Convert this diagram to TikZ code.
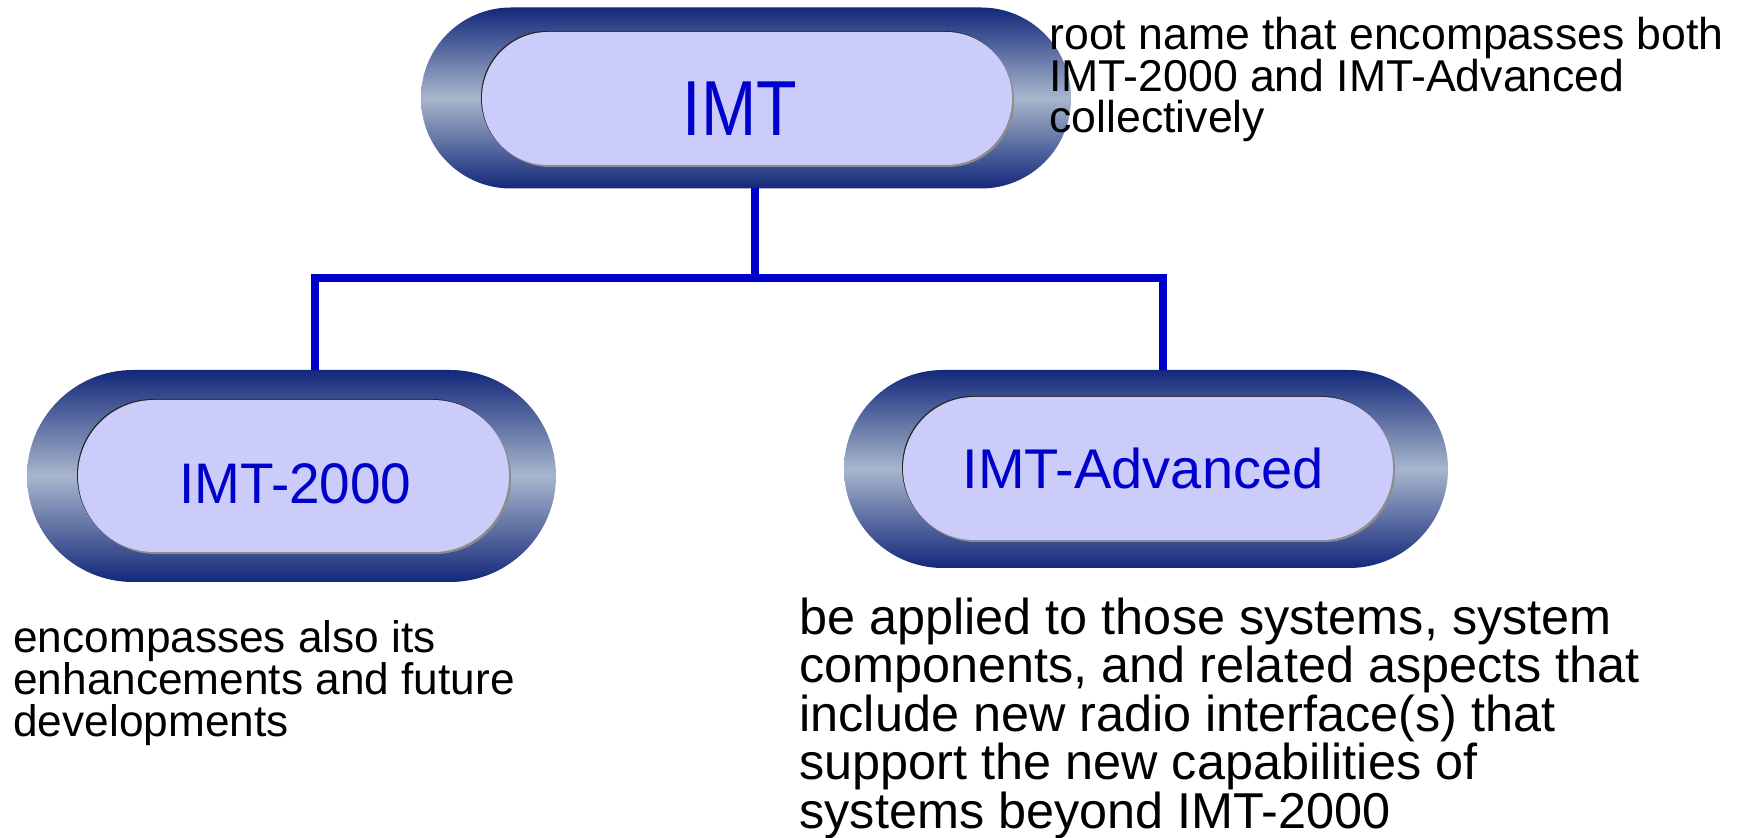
\documentclass[tikz,border=0pt]{standalone}
\usepackage{fontspec}
\setmainfont{Liberation Sans}
\usetikzlibrary{calc}
\definecolor{navy}{HTML}{13287A}
\definecolor{steel}{HTML}{A8B6CC}
\definecolor{lav}{HTML}{CCCCFA}
\definecolor{lblue}{HTML}{0000CC}
\definecolor{rimgray}{HTML}{8C8C8C}
\definecolor{rimdark}{HTML}{262626}
\begin{document}
\begin{tikzpicture}[x=0.5pt,y=-0.5pt,
  outerpill/.style={rectangle, inner sep=0pt, outer sep=0pt, top color=navy, bottom color=navy, middle color=steel},
  innerpill/.style={rectangle, inner sep=0pt, outer sep=0pt, fill=lav},
  pilllabel/.style={inner sep=0pt, text=lblue},
  note/.style={inner sep=0pt, anchor=base west, align=left, text=black},
  conn/.style={draw=lblue, line width=4pt}]
\useasboundingbox (0,0) rectangle (1745,838);

% root
\node[outerpill, minimum width=325pt, minimum height=90.5pt, rounded corners=45pt] (root) at (746,98) {};
\fill[rimgray, rounded corners=33pt] (484,34) rectangle (1014,167);
\fill[rimdark, rounded corners=33pt] (481,31) rectangle (1011,164);
\node[innerpill, minimum width=265pt, minimum height=66.5pt, rounded corners=33pt] (rootin) at (747,98.5) {};
\node[pilllabel] (rootlbl) at (740,109) {\scalebox{0.85}[1]{\fontsize{39}{39}\selectfont IMT}};

% IMT-2000
\node[outerpill, minimum width=264.5pt, minimum height=106pt, rounded corners=53pt] (imt2000) at (291.5,476) {};
\fill[rimgray, rounded corners=38pt] (80,402) rectangle (511,554);
\fill[rimdark, rounded corners=38pt] (77,399) rectangle (508,551);
\node[innerpill, minimum width=215.5pt, minimum height=76pt, rounded corners=38pt] (imt2000in) at (293.5,476) {};
\node[pilllabel] (imt2000lbl) at (295.5,483.5) {\scalebox{0.96}[1]{\fontsize{28.6}{28.6}\selectfont IMT-2000}};

% IMT-Advanced
\node[outerpill, minimum width=302pt, minimum height=99pt, rounded corners=49.5pt] (imtadv) at (1146,469) {};
\fill[rimgray, rounded corners=35.7pt] (905,399) rectangle (1395,542);
\fill[rimdark, rounded corners=35.7pt] (902,396) rectangle (1392,539);
\node[innerpill, minimum width=245pt, minimum height=71.5pt, rounded corners=35.7pt] (imtadvin) at (1148,468.5) {};
\node[pilllabel] (imtadvlbl) at (1143,468) {\fontsize{28}{28}\selectfont IMT-Advanced};

% connectors
\coordinate (junction) at ($(root.south)+(9,90)$);
\draw[conn] ($(root.south)+(9,0)$) -- (junction);
\draw[conn] ($(imt2000.north)+(23,0)$) |- (junction);
\draw[conn] ($(imtadv.north)+(17,0)$) |- (junction);

% notes (anchor = baseline of last line)
\node[note, font=\fontsize{22.3}{20.85}\selectfont] (rootnote) at (1049,133)
  {root name that encompasses both\\IMT-2000 and IMT-Advanced\\collectively};
\node[note, font=\fontsize{22.1}{21.1}\selectfont] (imt2000note) at (13,737)
  {encompasses also its\\enhancements and future\\developments};
\node[note, font=\fontsize{25.2}{24.2}\selectfont] (imtadvnote) at (799,828)
  {be applied to those systems, system\\components, and related aspects that\\include new radio interface(s) that\\support the new capabilities of\\systems beyond IMT-2000};
\end{tikzpicture}
\end{document}
